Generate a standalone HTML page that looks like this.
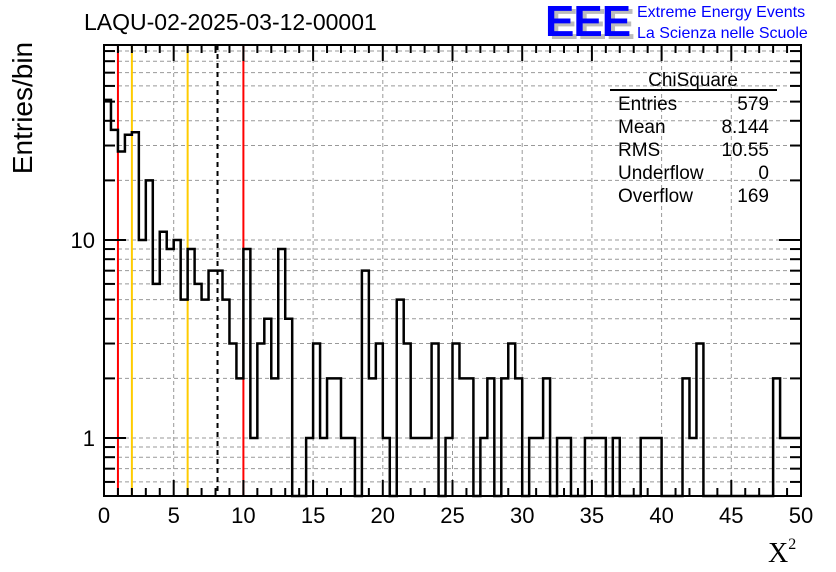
<!DOCTYPE html>
<html><head><meta charset="utf-8"><style>
body{margin:0;background:#fff;}
svg{display:block;font-family:"Liberation Sans",sans-serif;}
</style></head><body>
<svg id="c" width="836" height="572"></svg>
<script>
const binEdgesStart = 0, binWidth = 0.5;
const counts = [51,36,28,34,35,10,20,6,11,9,10,5,9,6,5,7,7,5,3,2,9,1,3,4,2,9,4,0,0,1,3,1,2,2,1,1,0,7,2,3,1,0,5,3,1,1,1,3,0,1,3,2,2,0,1,2,0,2,3,2,0,1,1,2,0,1,1,0,0,1,1,1,0,1,0,0,0,1,1,1,0,0,0,2,1,3,0,0,0,0,0,0,0,0,0,0,2,1,1,1];
const xTicks = [0,5,10,15,20,25,30,35,40,45,50];
const yMajor = [1,10];
const yMinor = [0.6,0.7,0.8,0.9,2,3,4,5,6,7,8,9,20,30,40,50,60,70,80,90];
const refRed = [1,10];
const refOrange = [2,6];
const meanVal = 8.144;
const statLabels = ["Entries","Mean","RMS","Underflow","Overflow"];
const statValues = ["579","8.144","10.55","0","169"];

const L=104,R=801,T=45,B=496;
const X=v=>L+(v-0)/50*(R-L);
const Y=v=>438-Math.log10(v)*198;
const svg=document.getElementById('c');
const NS='http://www.w3.org/2000/svg';
function mk(tag,attrs,parent){const e=document.createElementNS(NS,tag);for(const k in attrs)e.setAttribute(k,attrs[k]);(parent||svg).appendChild(e);return e;}

const grid=mk('g',{stroke:'#999','stroke-width':1,'stroke-dasharray':'4,3'});


xTicks.slice(1,-1).forEach(v=>mk('line',{x1:X(v),x2:X(v),y1:T,y2:B},grid));
yMajor.concat(yMinor).forEach(v=>{const y=Y(v);if(y>T&&y<B)mk('line',{x1:L,x2:R,y1:y,y2:y},grid);});

refRed.forEach(v=>{const l=mk('line',{x1:X(v),x2:X(v),y1:T,y2:B,stroke:'#f00','stroke-width':2});

});
refOrange.forEach(v=>{const l=mk('line',{x1:X(v),x2:X(v),y1:T,y2:B,stroke:'#fc0','stroke-width':2});

});
const ml=mk('line',{x1:X(meanVal),x2:X(meanVal),y1:T,y2:B,stroke:'#000','stroke-width':2,'stroke-dasharray':'5,4'});



let d='';
counts.forEach((c,i)=>{
  const x0=X(binEdgesStart+i*binWidth),x1=X(binEdgesStart+(i+1)*binWidth);
  const y=c>0?Math.max(T,Math.min(B,Y(c))):B;
  if(i===0)d+=`M${x0},${y}`;else d+=`L${x0},${y}`;
  d+=`L${x1},${y}`;
});
const h=mk('path',{d:d,fill:'none',stroke:'#000','stroke-width':2.5});



const fr=mk('rect',{x:L,y:T,width:R-L,height:B-T,fill:'none',stroke:'#000','stroke-width':2});



const tk=mk('g',{stroke:'#000','stroke-width':2});


for(let v=0;v<=50;v+=1){const big=v%5===0;const len=big?16:8;const x=X(v);
 mk('line',{x1:x,x2:x,y1:B,y2:B-len},tk);mk('line',{x1:x,x2:x,y1:T,y2:T+len},tk);}
yMajor.forEach(v=>{const y=Y(v);mk('line',{x1:L,x2:L+22,y1:y,y2:y},tk);mk('line',{x1:R,x2:R-22,y1:y,y2:y},tk);});
yMinor.forEach(v=>{const y=Y(v);if(y>T&&y<B){mk('line',{x1:L,x2:L+11,y1:y,y2:y},tk);mk('line',{x1:R,x2:R-11,y1:y,y2:y},tk);}});

xTicks.forEach(v=>{const t=mk('text',{x:X(v),y:523,'font-size':22,'text-anchor':'middle'});t.textContent=v;

});
yMajor.forEach(v=>{const t=mk('text',{x:95,y:Y(v)+8,'font-size':22,'text-anchor':'end'});t.textContent=v;

});

const st=mk('g',{});


const ttl=mk('text',{x:693,y:86,'font-size':19,'text-anchor':'middle'},st);ttl.textContent='ChiSquare';
mk('line',{x1:610,x2:777,y1:90,y2:90,stroke:'#000','stroke-width':2},st);
statLabels.forEach((s,i)=>{const a=mk('text',{x:618,y:110+i*23,'font-size':19},st);a.textContent=s;
const b=mk('text',{x:769,y:110+i*23,'font-size':19,'text-anchor':'end'},st);b.textContent=statValues[i];});
</script>
<div style="position:absolute;left:84px;top:9px;font:23px 'Liberation Sans',sans-serif;">LAQU-02-2025-03-12-00001</div>
<div style="position:absolute;left:-52px;top:92px;width:150px;transform:rotate(-90deg);font:28px 'Liberation Sans',sans-serif;text-align:center;">Entries/bin</div>
<div style="position:absolute;left:768px;top:536px;font:28px 'Liberation Serif',serif;">X<sup style="font-size:16px;vertical-align:13px;">2</sup></div>
<div style="position:absolute;left:545px;top:0px;font:bold 44px 'Liberation Sans',sans-serif;color:#00f;letter-spacing:-1px;line-height:44px;text-shadow:4px 3px 0 #bbb;">EEE</div>
<div style="position:absolute;left:637px;top:2px;font:16px 'Liberation Sans',sans-serif;color:#00f;line-height:21px;">Extreme Energy Events<br>La Scienza nelle Scuole</div>
</body></html>
